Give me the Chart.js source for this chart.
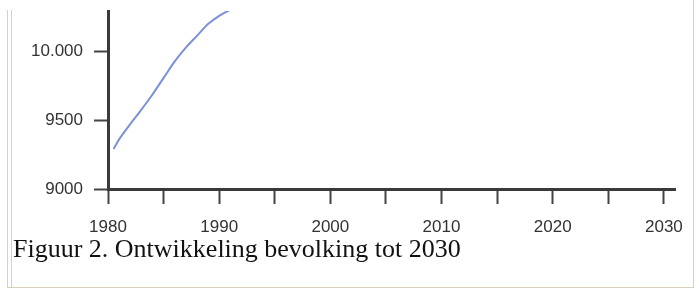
<!DOCTYPE html>
<html>
<head>
<meta charset="utf-8">
<script src="https://cdn.jsdelivr.net/npm/chart.js@4/dist/chart.umd.min.js"></script>
<style>
  html, body { margin: 0; padding: 0; background: #ffffff; }
  #wrap { position: relative; width: 699px; height: 290px; overflow: hidden; background: #fff; }
  #c { position: absolute; left: 0; top: 0; }
  .bl { position: absolute; background: #d6d0bc; }
  #caption { position: absolute; left: 13px; top: 236px; font-family: "Liberation Serif", "Times New Roman", serif; font-size: 26px; line-height: 26px; color: #111; white-space: nowrap; }
</style>
</head>
<body>
<div id="wrap">
  <canvas id="c" width="699" height="290"></canvas>
  <div class="bl" style="left:7px; top:10px; width:1px; height:278px;"></div>
  <div class="bl" style="left:11px; top:10px; width:1px; height:278px;"></div>
  <div class="bl" style="left:7px; top:287px; width:687px; height:1px;"></div>
  <div class="bl" style="left:693px; top:0px; width:1px; height:288px;"></div>
  <div id="caption">Figuur 2. Ontwikkeling bevolking tot 2030</div>
</div>
<script>
// Data
const years = [1980.5, 1981, 1982, 1983, 1984, 1985, 1986, 1987, 1988, 1989, 1990, 1991];
const population = [9290, 9360, 9470, 9575, 9685, 9805, 9925, 10025, 10110, 10195, 10255, 10300];
const xTickValues = [1980, 1985, 1990, 1995, 2000, 2005, 2010, 2015, 2020, 2025, 2030];
const yTickValues = [9000, 9500, 10000];
const yTickLabels = ['9000', '9500', '10.000'];

const points = years.map((y, i) => ({ x: y, y: population[i] }));
const axisColor = '#3a3a3a';
const tickFont = { family: '"Liberation Sans", Arial, sans-serif', size: 17 };

new Chart(document.getElementById('c'), {
  type: 'line',
  data: {
    datasets: [{
      data: points,
      borderColor: '#7d90d8',
      borderWidth: 2,
      pointRadius: 0,
      tension: 0.3,
      fill: false
    }]
  },
  options: {
    responsive: false,
    animation: false,
    events: [],
    layout: { padding: { top: 11, right: 24, left: 0, bottom: 0 } },
    plugins: { legend: { display: false }, tooltip: { enabled: false } },
    scales: {
      x: {
        type: 'linear',
        min: 1980,
        max: 2031,
        afterBuildTicks: (s) => { s.ticks = xTickValues.map(v => ({ value: v })); },
        afterFit: (s) => { s.height = 101; s.paddingLeft = 0; s.paddingRight = 0; },
        border: { display: true, color: axisColor, width: 3 },
        grid: { display: true, drawOnChartArea: false, drawTicks: true, tickLength: 15, tickWidth: 2, tickColor: '#444' },
        ticks: {
          autoSkip: false, maxRotation: 0, minRotation: 0, padding: 13,
          color: '#333', font: tickFont,
          callback: (v) => (v % 10 === 0 ? String(v) : '')
        }
      },
      y: {
        type: 'linear',
        min: 9000,
        max: 10290,
        afterBuildTicks: (s) => { s.ticks = yTickValues.map(v => ({ value: v })); },
        afterFit: (s) => { s.width = 108; s.paddingTop = 0; s.paddingBottom = 0; },
        border: { display: true, color: axisColor, width: 3 },
        grid: { display: true, drawOnChartArea: false, drawTicks: true, tickLength: 14, tickWidth: 2, tickColor: '#444' },
        ticks: {
          padding: 11, color: '#333', font: tickFont,
          callback: (v) => { const i = yTickValues.indexOf(v); return i >= 0 ? yTickLabels[i] : ''; }
        }
      }
    }
  }
});
</script>
</body>
</html>
